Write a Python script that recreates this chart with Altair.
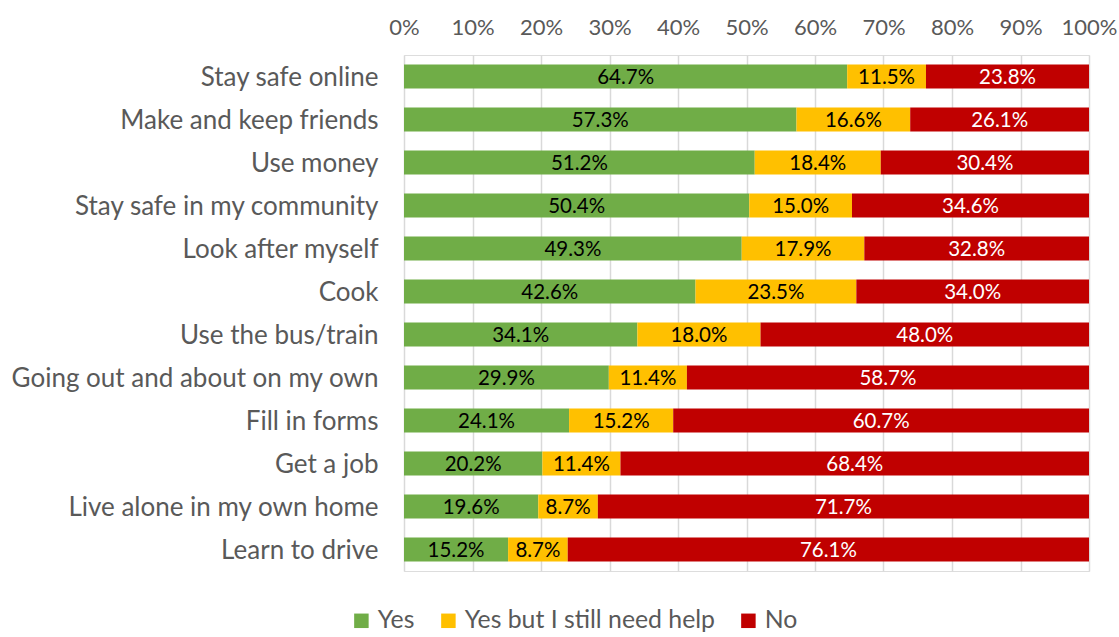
import altair as alt
import pandas as pd

categories = [
    "Stay safe online", "Make and keep friends", "Use money",
    "Stay safe in my community", "Look after myself", "Cook",
    "Use the bus/train", "Going out and about on my own", "Fill in forms",
    "Get a job", "Live alone in my own home", "Learn to drive",
]
yes = [64.7, 57.3, 51.2, 50.4, 49.3, 42.6, 34.1, 29.9, 24.1, 20.2, 19.6, 15.2]
yes_help = [11.5, 16.6, 18.4, 15.0, 17.9, 23.5, 18.0, 11.4, 15.2, 11.4, 8.7, 8.7]
no = [23.8, 26.1, 30.4, 34.6, 32.8, 34.0, 48.0, 58.7, 60.7, 68.4, 71.7, 76.1]
responses = ["Yes", "Yes but I still need help", "No"]
colors = ["#70AD47", "#FFC000", "#C00000"]
text_colors = ["#000000", "#000000", "#FFFFFF"]
tick_values = [0, 0.1, 0.2, 0.3, 0.4, 0.5, 0.6, 0.7, 0.8, 0.9, 1.0]

rows = []
for i, c in enumerate(categories):
    for j, (r, vals) in enumerate(zip(responses, [yes, yes_help, no])):
        rows.append({"cat": c, "resp": r, "value": vals[i], "ord": j,
                     "label": f"{vals[i]:.1f}%", "tcol": text_colors[j]})
df = pd.DataFrame(rows)

FONT = "Lato"
GREY = "#595959"

base = alt.Chart(df).transform_stack(
    stack="value", as_=["x0", "x1"], groupby=["cat"],
    sort=[alt.SortField("ord", order="ascending")], offset="normalize"
).transform_calculate(mid="(datum.x0 + datum.x1) / 2")

yenc = alt.Y("cat:N", sort=categories, title=None,
             scale=alt.Scale(paddingInner=0.44, paddingOuter=0.22),
             axis=alt.Axis(domain=False, ticks=False, labelFontSize=26,
                           labelColor=GREY, labelFont=FONT, labelPadding=26,
                           labelOffset=1.5, labelLimit=500))

bars = base.mark_bar().encode(
    x=alt.X("x0:Q", title=None,
            scale=alt.Scale(domain=[0, 1], nice=False),
            axis=alt.Axis(orient="top", format=".0%", values=tick_values,
                          labelOverlap=False, labelFlush=False,
                          domain=False, ticks=False, grid=True, gridColor="#D9D9D9",
                          gridWidth=1.5, labelFontSize=22, labelColor=GREY,
                          labelFont=FONT, labelPadding=16)),
    x2="x1:Q",
    y=yenc,
    color=alt.Color("resp:N", sort=responses,
                    scale=alt.Scale(domain=responses, range=colors),
                    legend=alt.Legend(title=None, orient="none", direction="horizontal",
                                      legendX=-55, legendY=553,
                                      symbolType="square", symbolSize=210,
                                      symbolStrokeWidth=0, symbolOpacity=1,
                                      labelFontSize=24.8, labelColor=GREY, labelFont=FONT,
                                      labelLimit=600, columnPadding=21, labelOffset=4)),
)

texts = base.mark_text(fontSize=20.5, font=FONT, baseline="middle", align="center",
                       dy=1).encode(
    x="mid:Q",
    y=alt.Y("cat:N", sort=categories),
    text="label:N",
    color=alt.Color("tcol:N", scale=None),
)

chart = alt.layer(bars, texts).properties(
    width=685, height=516,
    autosize=alt.AutoSizeParams(type="none"),
    padding={"left": 404, "top": 55, "right": 30, "bottom": 66},
).configure_view(stroke=None).configure(background="white")

chart.save("out.html", embed_options={"renderer": "svg", "actions": False})
